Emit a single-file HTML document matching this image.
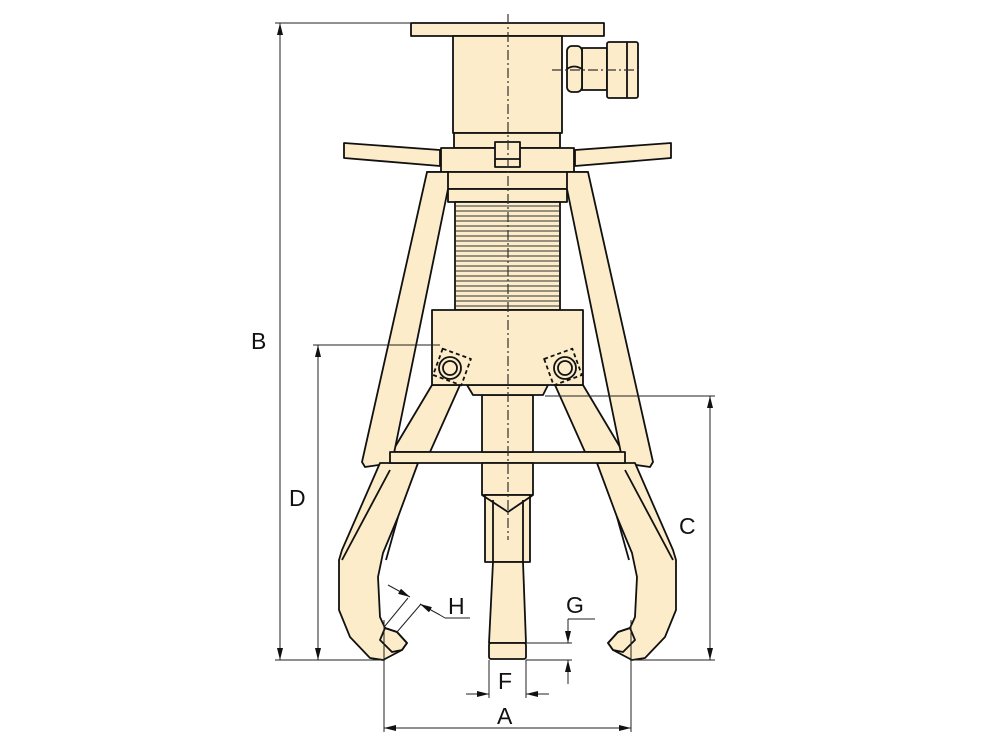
<!DOCTYPE html>
<html><head><meta charset="utf-8"><style>
html,body{margin:0;padding:0;background:#fff;}
svg{display:block;}
text{font-family:"Liberation Sans",sans-serif;font-size:23px;fill:#111;}
</style></head><body>
<svg width="1000" height="750" viewBox="0 0 1000 750" xmlns="http://www.w3.org/2000/svg">
<defs>
<marker id="ar" viewBox="0 0 12 6" refX="12" refY="3" markerWidth="12" markerHeight="6" orient="auto-start-reverse" markerUnits="userSpaceOnUse"><path d="M0,0 L12,3 L0,6 z" fill="#111"/></marker>
<g id="jaw">
 <path d="M432,385 L460,385 L430,452 L392,452 Z"/>
 <path d="M427,172 L448,172 L448,189 L392,463 L365,467 L362,462 Z"/>
 <path d="M380,463 L418,463 L398,517 L383,553 L378,577 L380,617 L385,628 L397,632 L407,643 L402,650 L383,660 L370,658 L350,637 L339,610 L339,560 L342,550 Z"/>
 <path d="M385,628 L397,632 L407,643 L402,650 L392,652 L380,640 Z" fill="none"/>
 <line x1="342" y1="560" x2="390" y2="470" fill="none"/>
 <line x1="398" y1="517" x2="386" y2="560" fill="none"/>
</g>
</defs>
<g stroke="#111" stroke-width="1.8" fill="#fcecc9" stroke-linejoin="round">
 <path d="M344,143 L440,150 L440,166 L344,158 Z"/>
 <path d="M575,150 L671,143 L671,158 L575,166 Z"/>
 <rect x="411" y="23" width="193" height="13"/>
 <rect x="453" y="36" width="109" height="97"/>
 <rect x="454" y="133" width="106" height="15"/>
 <rect x="582" y="48" width="25" height="42"/>
 <rect x="607" y="42" width="31" height="56" rx="2"/>
 <line x1="627" y1="42" x2="627" y2="98"/>
 <rect x="567" y="46" width="15" height="46" rx="5"/>
 <path d="M567,69 Q574,64 582,69" fill="none"/>
 <rect x="441" y="148" width="133" height="24"/>
 <rect x="495" y="142" width="25" height="25"/>
 <line x1="495" y1="159" x2="520" y2="159"/>
 <rect x="427" y="172" width="161" height="17"/>
 <rect x="448" y="189" width="119" height="13"/>
 <rect x="455" y="202" width="105" height="108"/>
 <use href="#jaw"/>
 <use href="#jaw" transform="translate(1015,0) scale(-1,1)"/>
 <rect x="390" y="452" width="235" height="11"/>
 <rect x="482" y="395" width="51" height="57"/>
 <rect x="482" y="463" width="51" height="32"/>
 <rect x="485" y="495" width="45" height="67"/>
 <path d="M482,495 L508,512 L533,495" fill="none"/>
 <line x1="493" y1="500" x2="493" y2="562"/>
 <line x1="523" y1="500" x2="523" y2="562"/>
 <path d="M493,562 L523,562 L526,643 L489,643 Z"/>
 <rect x="489" y="643" width="37" height="16" rx="2"/>
 <path d="M467,385 L473,395 L543,395 L548,385 Z"/>
 <rect x="432" y="310" width="151" height="75"/>
 <rect x="437" y="353" width="30" height="28" fill="none" stroke-dasharray="4,3" transform="rotate(20 452 367)"/>
 <rect x="548" y="353" width="30" height="28" fill="none" stroke-dasharray="4,3" transform="rotate(-20 563 367)"/>
 <circle cx="450" cy="368" r="11"/><circle cx="450" cy="368" r="7"/>
 <circle cx="565" cy="368" r="11"/><circle cx="565" cy="368" r="7"/>
</g>
<g stroke="#333" stroke-width="1">
<path d="M456,206H559M456,211H559M456,216H559M456,221H559M456,226H559M456,231H559M456,236H559M456,241H559M456,246H559M456,251H559M456,256H559M456,261H559M456,266H559M456,271H559M456,276H559M456,281H559M456,286H559M456,291H559M456,296H559M456,301H559M456,306H559"/>
</g>
<g stroke="#333" stroke-width="1.2" stroke-dasharray="10,3,2,3" fill="none">
 <line x1="508" y1="14" x2="508" y2="540"/>
 <line x1="552" y1="70" x2="642" y2="70"/>
</g>
<g stroke="#222" stroke-width="1" fill="none">
 <line x1="275" y1="23" x2="411" y2="23"/>
 <line x1="275" y1="660" x2="385" y2="660"/>
 <line x1="280" y1="23" x2="280" y2="660" marker-start="url(#ar)" marker-end="url(#ar)"/>
 <line x1="313" y1="345" x2="440" y2="345"/>
 <line x1="318" y1="345" x2="318" y2="660" marker-start="url(#ar)" marker-end="url(#ar)"/>
 <line x1="545" y1="396" x2="715" y2="396"/>
 <line x1="630" y1="660" x2="715" y2="660"/>
 <line x1="710" y1="396" x2="710" y2="660" marker-start="url(#ar)" marker-end="url(#ar)"/>
 <line x1="384" y1="620" x2="384" y2="732"/>
 <line x1="631" y1="620" x2="631" y2="732"/>
 <line x1="384" y1="728" x2="631" y2="728" marker-start="url(#ar)" marker-end="url(#ar)"/>
 <line x1="489" y1="660" x2="489" y2="698"/>
 <line x1="526" y1="660" x2="526" y2="698"/>
 <line x1="466" y1="694" x2="489" y2="694" marker-end="url(#ar)"/>
 <line x1="549" y1="694" x2="526" y2="694" marker-end="url(#ar)"/>
 <line x1="526" y1="643" x2="572" y2="643"/>
 <line x1="526" y1="660" x2="572" y2="660"/>
 <line x1="568" y1="619" x2="568" y2="643" marker-end="url(#ar)"/>
 <line x1="568" y1="684" x2="568" y2="660" marker-end="url(#ar)"/>
 <line x1="568" y1="619" x2="595" y2="619"/>
 <line x1="385" y1="626" x2="408" y2="598"/>
 <line x1="397" y1="632" x2="421" y2="604"/>
 <line x1="388" y1="585" x2="410" y2="597" marker-end="url(#ar)"/>
 <line x1="440" y1="615" x2="420" y2="604" marker-end="url(#ar)"/>
 <line x1="440" y1="615" x2="445" y2="618"/>
 <line x1="445" y1="618" x2="470" y2="618"/>
</g>
<text x="251" y="349">B</text>
<text x="289" y="506">D</text>
<text x="679" y="534">C</text>
<text x="497" y="724">A</text>
<text x="498" y="689">F</text>
<text x="566" y="613">G</text>
<text x="448" y="614">H</text>
</svg>
</body></html>
